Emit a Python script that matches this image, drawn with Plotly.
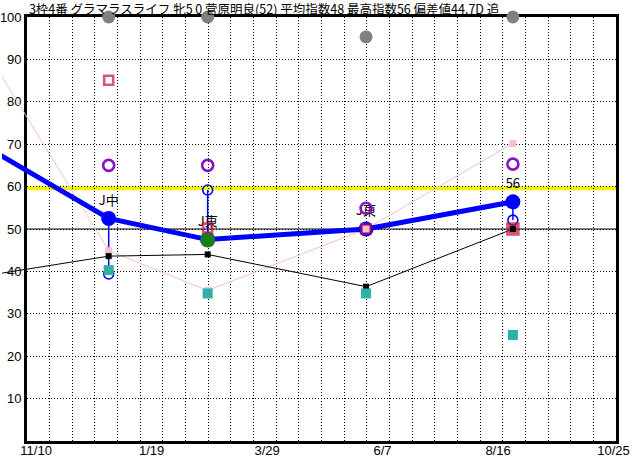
import plotly.graph_objects as go
import pandas as pd

# ---------------- data ----------------
TITLE = "3枠4番 グラマラスライフ 牝5 0 菅原明良(52) 平均指数48 最高指数56 偏差値44.7D 追"

# index 0 = previous run (left of the visible window), last = today's race
race_dates = ["2023-10-14", "2023-12-24", "2024-02-22", "2024-05-28", "2024-08-25", "2024-10-27"]
race_labels = ["", "J中", "J東", "J東", "56", ""]

speed_index = [68.6, 52.5, 47.5, 50.0, 56.4, None]      # thick blue line
index_low = [None, 39.4, 59.2, None, 52.1, None]        # blue open circles
pink_series = [90.0, 44.9, 35.5, 50.0, 70.2, None]
black_series = [39.2, 43.6, 44.0, 36.4, 50.0, None]
teal_series = [None, 40.3, 34.8, 34.8, 25.0, 30.0]
purple_series = [None, 65.0, 65.0, 54.9, 65.3, 65.0]
red_series = [None, 85.1, 50.2, 50.0, 50.0, None]
red_filled = [False, False, False, False, True, False]
gray_series = [None, 100.0, 100.0, 95.3, 100.0, None]
green_series = [None, None, 47.4, None, None, None]

x_tick_dates = ["2023-11-10", "2024-01-19", "2024-03-29", "2024-06-07", "2024-08-16", "2024-10-25"]
x_tick_labels = ["11/10", "1/19", "3/29", "6/7", "8/16", "10/25"]
y_ticks = [10, 20, 30, 40, 50, 60, 70, 80, 90, 100]
AVERAGE_LEVEL = 59.6
BASE_LEVEL = 50
GRID_COLUMNS = 26

# ---------------- layout geometry ----------------
W, H = 632, 460
M_L, M_R, M_T, M_B = 0, 16, 17, 19
FRAME_LEFT_PX = 25
paper_w = W - M_L - M_R
x_dom0 = FRAME_LEFT_PX / paper_w

x_start = pd.Timestamp("2023-11-04 10:34")
x_end = pd.Timestamp("2024-10-26 12:00")
span = x_end - x_start
x2_start = x_start - span * (FRAME_LEFT_PX / (paper_w - FRAME_LEFT_PX))
grid_dtick = span.total_seconds() * 1000 / GRID_COLUMNS


def iso(ts):
    return ts.strftime("%Y-%m-%d %H:%M:%S")


BLUE = "#0000FF"
PINK = "#F7BFC8"
TEAL = "#2EB0A8"
PURPLE = "#8A12C4"
RED = "#C40F3A"
GRAY = "#808080"
GREEN = "#15801A"
YELLOW = "#F2F200"
DOTS = "1px,2px"

PREV = 1  # first visible race index
vis_dates = race_dates[PREV:]

fig = go.Figure()

# gray markers on the framed subplot (bottom-most marks)
fig.add_trace(go.Scatter(x=vis_dates, y=gray_series[PREV:], mode="markers", cliponaxis=False,
                         marker=dict(symbol="circle", size=13, color=GRAY),
                         showlegend=False, hoverinfo="skip", xaxis="x", yaxis="y"))

common = dict(xaxis="x2", yaxis="y2", showlegend=False, hoverinfo="skip")

# lines (extend to the left edge of the image like the original)
fig.add_trace(go.Scatter(x=race_dates, y=pink_series, mode="lines",
                         line=dict(color=PINK, width=1), **common))
fig.add_trace(go.Scatter(x=race_dates, y=black_series, mode="lines",
                         line=dict(color="black", width=1), **common))
fig.add_trace(go.Scatter(x=race_dates, y=speed_index, mode="lines",
                         line=dict(color=BLUE, width=5), **common))

# range bars between index and low
rx, ry = [], []
for d, hi, lo in zip(race_dates, speed_index, index_low):
    if hi is not None and lo is not None:
        rx += [d, d, None]
        ry += [hi, lo, None]
fig.add_trace(go.Scatter(x=rx, y=ry, mode="lines", line=dict(color=BLUE, width=1.5), **common))

mk = dict(mode="markers", cliponaxis=False, **common)

fig.add_trace(go.Scatter(x=vis_dates, y=index_low[PREV:],
                         marker=dict(symbol="circle-open", size=10, color=BLUE, line=dict(width=1.6)), **mk))
fig.add_trace(go.Scatter(x=vis_dates, y=speed_index[PREV:], mode="markers+text",
                         text=race_labels[PREV:], textposition="top center",
                         textfont=dict(family="Noto Sans CJK JP", size=13, color="black"),
                         marker=dict(symbol="circle", size=15, color=BLUE),
                         cliponaxis=False, **common))
fig.add_trace(go.Scatter(x=vis_dates, y=green_series[PREV:],
                         marker=dict(symbol="circle", size=15, color=GREEN), **mk))
fig.add_trace(go.Scatter(x=vis_dates, y=red_series[PREV:],
                         marker=dict(symbol=["square" if f else "square-open" for f in red_filled[PREV:]],
                                     size=[11 if f else 9 for f in red_filled[PREV:]],
                                     color=RED, line=dict(width=2.6, color=RED)), **mk))
fig.add_trace(go.Scatter(x=vis_dates, y=pink_series[PREV:],
                         marker=dict(symbol="square", size=7, color=PINK), **mk))
fig.add_trace(go.Scatter(x=vis_dates, y=black_series[PREV:],
                         marker=dict(symbol="square", size=6, color="black"), **mk))
fig.add_trace(go.Scatter(x=vis_dates, y=teal_series[PREV:],
                         marker=dict(symbol="square", size=10, color=TEAL), **mk))
fig.add_trace(go.Scatter(x=vis_dates, y=purple_series[PREV:],
                         marker=dict(symbol="circle-open", size=11, color=PURPLE, line=dict(width=2.6)), **mk))

fig.add_shape(type="line", xref="x domain", yref="y", x0=0, x1=1, y0=AVERAGE_LEVEL, y1=AVERAGE_LEVEL,
              line=dict(color=YELLOW, width=4), layer="below")
fig.add_shape(type="line", xref="x domain", yref="y", x0=0, x1=1, y0=BASE_LEVEL, y1=BASE_LEVEL,
              line=dict(color="black", width=1), layer="below")

fig.update_layout(
    width=W, height=H,
    margin=dict(l=M_L, r=M_R, t=M_T, b=M_B, pad=0),
    paper_bgcolor="white", plot_bgcolor="rgba(0,0,0,0)",
    font=dict(family="Liberation Sans", size=13, color="black"),
    title=dict(text=TITLE, xref="paper", x=x_dom0, xanchor="left", pad=dict(l=2),
               yref="container", y=1 - 9.5 / H, yanchor="middle",
               font=dict(family="Noto Sans CJK JP", size=12.5, color="black")),
    # framed axis: carries the vertical dotted grid and the frame
    xaxis=dict(type="date", domain=[x_dom0, 1], range=[iso(x_start), iso(x_end)], anchor="y",
               tickmode="linear", tick0=iso(x_start), dtick=grid_dtick,
               showticklabels=False, ticks="",
               showgrid=True, gridcolor="black", gridwidth=1, griddash=DOTS, zeroline=False,
               showline=True, linecolor="black", linewidth=2.5, mirror=True,
               layer="below traces"),
    yaxis=dict(range=[0, 100], domain=[0, 1], tickvals=y_ticks, ticks="", anchor="x",
               showgrid=True, gridcolor="black", gridwidth=1, griddash=DOTS,
               zeroline=False, showline=True, linecolor="black", linewidth=2.5, mirror=True,
               layer="below traces"),
    # full-width axis (same scale) for the lines and the date labels
    xaxis2=dict(type="date", domain=[0, 1], range=[iso(x2_start), iso(x_end)], anchor="y2",
                tickvals=x_tick_dates, ticktext=x_tick_labels, ticks="",
                showgrid=False, showline=False, zeroline=False),
    yaxis2=dict(range=[0, 100], domain=[0, 1], anchor="x2", visible=False),
)

fig.write_html("out.html", config={"displayModeBar": False},
               post_script="document.body.style.margin='0';")
